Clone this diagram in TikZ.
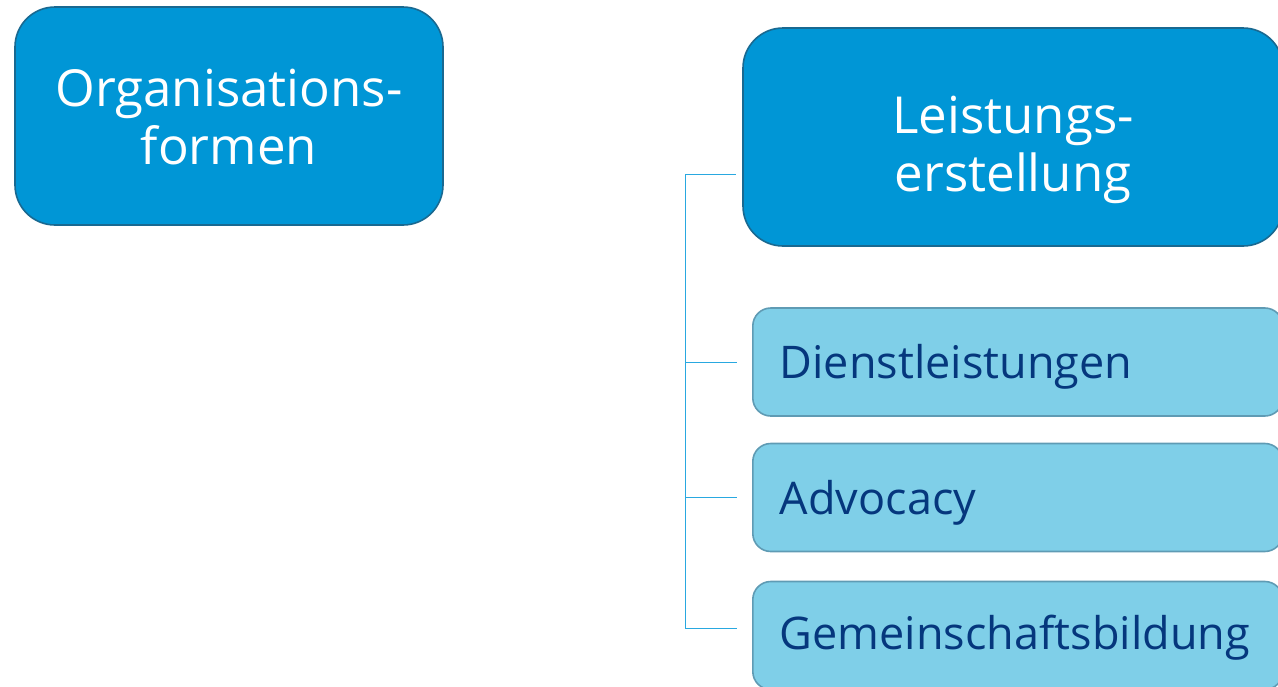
\documentclass[tikz,border=0pt]{standalone}
\usepackage{fontspec}
\setmainfont{Open Sans}
\definecolor{bigfill}{RGB}{0,150,214}
\definecolor{bigdraw}{RGB}{25,105,145}
\definecolor{smallfill}{RGB}{127,207,232}
\definecolor{smalldraw}{RGB}{95,155,180}
\definecolor{smalltext}{RGB}{5,55,125}
\definecolor{conncol}{RGB}{41,168,224}
\newcommand{\shiftdn}[2]{\raisebox{-#1}[\height][\depth]{#2}}
\tikzset{
  bigbox/.style={draw=bigdraw, line width=1.6pt, fill=bigfill, rounded corners=40pt,
    text=white, align=center, font=\fontsize{51}{58}\selectfont, inner sep=0pt},
  smallbox/.style={draw=smalldraw, line width=1.6pt, fill=smallfill, rounded corners=18pt,
    text=smalltext, align=left, text width=476pt, inner xsep=27pt, inner ysep=0pt,
    minimum height=108pt, font=\fontsize{45}{50}\selectfont},
  conn/.style={draw=conncol, line width=1pt}
}
\begin{document}
\begin{tikzpicture}[x=1pt,y=-1pt]
\useasboundingbox (0,0) rectangle (1278,686);
\clip (0,0) rectangle (1278,686);
\node[bigbox, minimum width=428pt, minimum height=218pt] (O) at (229,116)
  {\shiftdn{8pt}{\begin{tabular}{@{}c@{}}Organisations-\\formen\end{tabular}}};
\node[bigbox, minimum width=540pt, minimum height=218pt] (L) at (1013,137)
  {\shiftdn{14pt}{\begin{tabular}{@{}c@{}}Leistungs-\\erstellung\end{tabular}}};
\node[smallbox, anchor=west] (D) at (752,362) {\shiftdn{5pt}{Dienstleistungen}};
\node[smallbox, anchor=west] (A) at (752,497.5) {\shiftdn{5pt}{Advocacy}};
\node[smallbox, anchor=west] (G) at (752,635.5) {\shiftdn{2pt}{Gemeinschaftsbildung}};
\coordinate (t1) at (685,174);
\coordinate (t4) at (685,628);
\draw[conn] (t1) -- (t4);
\draw[conn, shorten >=6pt] (t1) -- (t1 -| L.west);
\draw[conn, shorten >=15pt] (t1 |- D.west) -- (D.west);
\draw[conn, shorten >=15pt] (t1 |- A.west) -- (A.west);
\draw[conn, shorten >=15pt] (t4) -- (t4 -| G.west);
\end{tikzpicture}
\end{document}
